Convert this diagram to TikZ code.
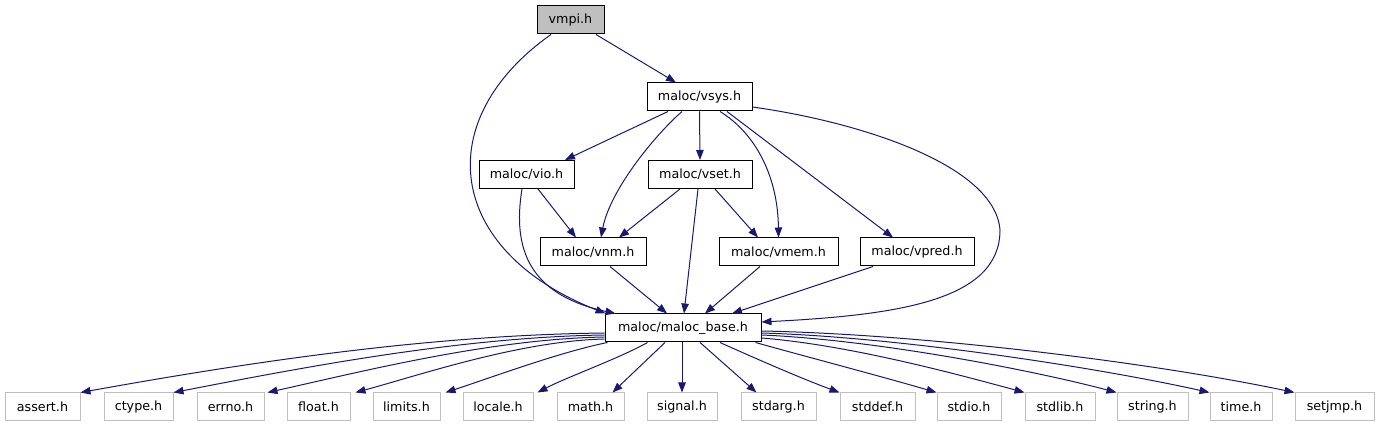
\documentclass[tikz,border=0pt]{standalone}
\usepackage{fontspec}
\setmainfont{DejaVu Sans}
\usetikzlibrary{arrows.meta,calc}
\definecolor{edgec}{HTML}{191970}
\definecolor{greyb}{HTML}{BFBFBF}
\tikzset{
  box/.style={draw=black, line width=1pt, fill=white, inner sep=0pt, minimum height=28pt, font=\fontsize{12.7}{15}\selectfont},
  mainbox/.style={box, fill=greyb},
  sysbox/.style={box, draw=greyb},
  edge/.style={draw=edgec, line width=1pt, -{Triangle[length=10pt,width=7.5pt]}, fill=none},
}
\begin{document}
\begin{tikzpicture}[x=1pt,y=-1pt]
\useasboundingbox (0,0) rectangle (1379,427);
% nodes
\node[mainbox, minimum width=67pt] (vmpi) at (570.5,20) {vmpi.h};
\node[box, minimum width=105pt] (vsys) at (699.5,97) {maloc/vsys.h};
\node[box, minimum width=95pt] (vio) at (526.5,174.5) {maloc/vio.h};
\node[box, minimum width=104pt] (vset) at (700,174.5) {maloc/vset.h};
\node[box, minimum width=106pt] (vnm) at (593,252) {maloc/vnm.h};
\node[box, minimum width=119pt] (vmem) at (778.5,252) {maloc/vmem.h};
\node[box, minimum width=114pt] (vpred) at (917,252) {maloc/vpred.h};
\node[box, minimum width=156pt] (base) at (683,328) {maloc/maloc\_base.h};
\node[sysbox, minimum width=75pt] (assert) at (42.5,407) {assert.h};
\node[sysbox, minimum width=69pt] (ctype) at (138.5,407) {ctype.h};
\node[sysbox, minimum width=67pt] (errno) at (230.5,407) {errno.h};
\node[sysbox, minimum width=63pt] (float) at (318.5,407) {float.h};
\node[sysbox, minimum width=67pt] (limits) at (406.5,407) {limits.h};
\node[sysbox, minimum width=70pt] (locale) at (498,407) {locale.h};
\node[sysbox, minimum width=67pt] (math) at (590.5,407) {math.h};
\node[sysbox, minimum width=70pt] (signal) at (682,407) {signal.h};
\node[sysbox, minimum width=75pt] (stdarg) at (778.5,407) {stdarg.h};
\node[sysbox, minimum width=75pt] (stddef) at (877.5,407) {stddef.h};
\node[sysbox, minimum width=64pt] (stdio) at (969,407) {stdio.h};
\node[sysbox, minimum width=70pt] (stdlib) at (1060,407) {stdlib.h};
\node[sysbox, minimum width=71pt] (string) at (1152.5,407) {string.h};
\node[sysbox, minimum width=62pt] (time) at (1241,407) {time.h};
\node[sysbox, minimum width=79pt] (setjmp) at (1334.5,407) {setjmp.h};
% upper edges
\draw[edge] ($(vmpi.south)+(25.5,0)$) -- ($(vsys.north)+(-23.5,0)$);
\draw[edge] ($(vmpi.south)+(-19.5,0)$) .. controls (430,120) and (445,250) .. ($(base.north west)+(1,0)$);
\draw[edge] ($(vsys.south)+(-31.5,0)$) -- ($(vio.north)+(38.5,0)$);
\draw[edge] ($(vsys.south)+(-17.5,0)$) .. controls (655,135) and (610,190) .. ($(vnm.north)+(8,0)$);
\draw[edge] (vsys.south) -- (vset.north);
\draw[edge] ($(vsys.south)+(20.5,0)$) .. controls (758,135) and (778,180) .. (vmem.north);
\draw[edge] ($(vsys.south)+(27.5,0)$) -- ($(vpred.north)+(-24,0)$);
\draw[edge] ($(vsys.east)+(0,10)$) .. controls (860,122) and (995,165) .. (1000,230) .. controls (1000,300) and (900,315) .. ($(base.east)+(0,-6)$);
\draw[edge] ($(vio.south)+(11.5,0)$) -- ($(vnm.north)+(-17,0)$);
\draw[edge] ($(vio.south)+(-4.5,0)$) .. controls (512,250) and (530,295) .. ($(base.north west)+(11,0)$);
\draw[edge] ($(vset.south)+(-20,0)$) -- ($(vnm.north)+(26,0)$);
\draw[edge] ($(vset.south)+(-2,0)$) -- ($(base.north)+(1,0)$);
\draw[edge] ($(vset.south)+(15,0)$) -- ($(vmem.north)+(-20.5,0)$);
\draw[edge] ($(vnm.south)+(17,0)$) -- ($(base.north)+(-16,0)$);
\draw[edge] ($(vmem.south)+(-18.5,0)$) -- ($(base.north)+(22,0)$);
\draw[edge] ($(vpred.south)+(-44,0)$) -- ($(base.north)+(49,0)$);
% lower edges
\draw[edge] ($(base.west)+(0,5)$) .. controls (430,335) and (250,362) .. (assert.north east);
\draw[edge] ($(base.west)+(0,7)$) .. controls (460,337) and (300,368) .. (ctype.north east);
\draw[edge] ($(base.west)+(0,9)$) .. controls (490,339) and (360,372) .. ($(errno.north east)+(3,0)$);
\draw[edge] ($(base.west)+(0,11)$) .. controls (520,341) and (420,375) .. ($(float.north east)+(5,0)$);
\draw[edge] ($(base.south west)+(3,0)$) .. controls (560,352) and (490,378) .. ($(limits.north east)+(5,0)$);
\draw[edge] ($(base.south west)+(43,0)$) .. controls (620,358) and (565,378) .. ($(locale.north east)+(4,0)$);
\draw[edge] ($(base.south)+(-18,0)$) -- ($(math.north east)+(-12,0)$);
\draw[edge] ($(base.south)+(-1,0)$) -- (signal.north);
\draw[edge] ($(base.south)+(17,0)$) -- ($(stdarg.north west)+(16,0)$);
\draw[edge] ($(base.south)+(37,0)$) .. controls (750,356) and (800,378) .. (stddef.north west);
\draw[edge] ($(base.south east)+(-6,0)$) .. controls (800,355) and (880,376) .. (stdio.north west);
\draw[edge] ($(base.east)+(0,10)$) .. controls (850,345) and (960,375) .. (stdlib.north west);
\draw[edge] ($(base.east)+(0,7)$) .. controls (880,340) and (1040,372) .. (string.north west);
\draw[edge] ($(base.east)+(0,5)$) .. controls (900,337) and (1100,368) .. (time.north west);
\draw[edge] ($(base.east)+(0,3)$) .. controls (920,334) and (1150,362) .. (setjmp.north west);
\end{tikzpicture}
\end{document}
